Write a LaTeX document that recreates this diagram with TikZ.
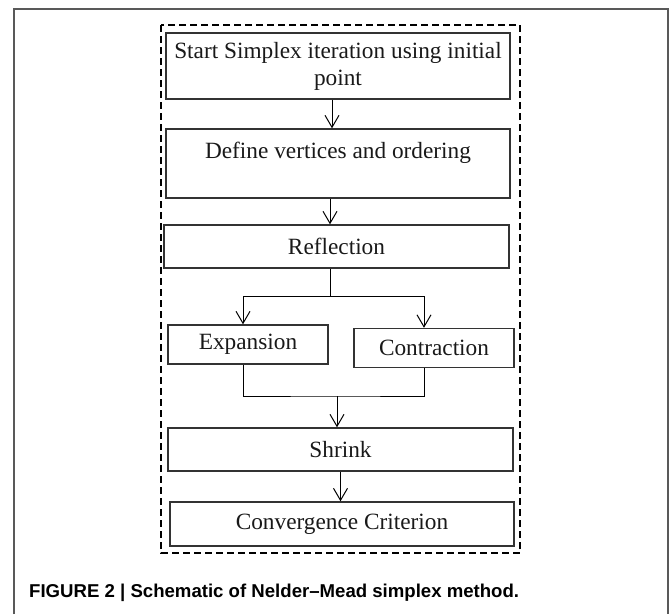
\documentclass[tikz,border=0pt]{standalone}
\usepackage{fontspec}
\setmainfont{Liberation Serif}
\newfontfamily\capfont{Liberation Sans}
\usetikzlibrary{arrows.meta}

\begin{document}
\begin{tikzpicture}[
        x=1pt, y=-1pt,
        block/.style={rectangle, draw=black!80, line width=1.4pt, inner sep=0pt, align=center, text=black!90,
                      font=\fontsize{23.3}{27}\selectfont},
        arrow/.style={-{Straight Barb[length=12pt, width=14pt]}, line width=1pt},
        link/.style={line width=1pt}
    ]
    \useasboundingbox (0,0) rectangle (672,614);

    % frame and dashed group
    \draw[black!65, line width=1.2pt] (14,614) -- (14,9) -- (668,9) -- (668,614);
    \draw[line width=1.3pt, dash pattern=on 7pt off 4pt] (161,25) rectangle (520,553);

    % Blocks
    \node[block, minimum width=344, minimum height=66] (start) at (338,66) {Start Simplex iteration using initial\\point};
    \node[block, minimum width=344, minimum height=69] (order) at (338,163.5) {Define vertices and ordering\\\mbox{}};
    \node[block, minimum width=345, minimum height=43] (refl) at (336.5,246.5) {Reflection};
    \node[block, minimum width=160, minimum height=39] (expa) at (248,344.5) {Expansion};
    \node[block, minimum width=160, minimum height=39] (contr) at (434,348) {Contraction};
    \node[block, minimum width=345, minimum height=43] (shrink) at (340.5,449.5) {Shrink};
    \node[block, minimum width=344, minimum height=44] (conv) at (342,524) {Convergence Criterion};

    % Arrows
    \draw[arrow] ([xshift=-6]start.south) -- ([xshift=-6]order.north);
    \draw[arrow] ([xshift=-8]order.south) -- ([xshift=-6.5]refl.north);
    \draw[link] ([xshift=-6.5]refl.south) -- ++(0,28) coordinate (split);
    \draw[arrow] (split) -| ([xshift=-5]expa.north);
    \draw[arrow] (split) -| ([xshift=-10]contr.north);
    \coordinate (join) at (337,396);
    \draw[link] ([xshift=-5]expa.south) |- (join) -| ([xshift=-10]contr.south);
    \draw[arrow] (join) -- (join |- shrink.north);
    \draw[arrow] (shrink.south) -- (shrink.south |- conv.north);

    % caption
    \node[anchor=base west, inner sep=0pt, font=\capfont\bfseries\fontsize{18.6}{22}\selectfont] (cap) at (29,597)
        {FIGURE 2 | Schematic of Nelder–Mead simplex method.};

\end{tikzpicture}
\end{document}
